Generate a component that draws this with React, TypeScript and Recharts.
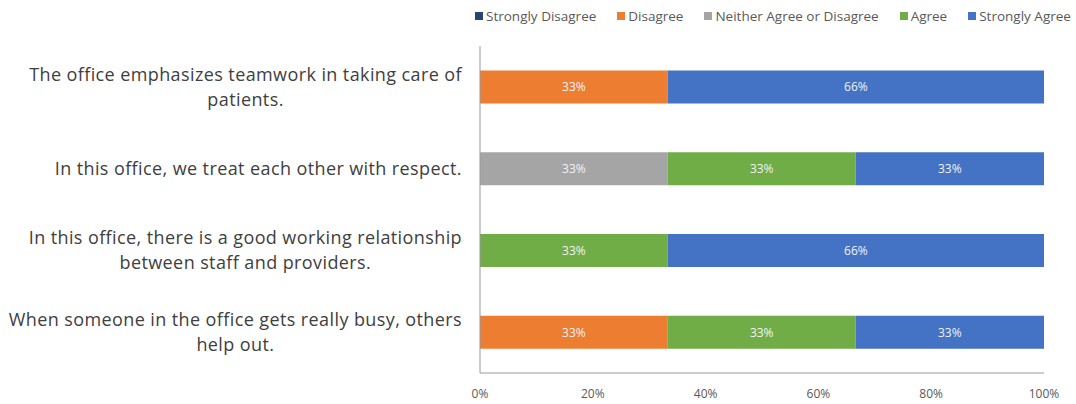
import { BarChart, Bar, XAxis, YAxis, LabelList } from 'recharts'

const categories = [
  'The office emphasizes teamwork in taking care of\npatients.',
  'In this office, we treat each other with respect.',
  'In this office, there is a good working relationship\nbetween staff and providers.',
  'When someone in the office gets really busy, others\nhelp out.',
]
const stronglyDisagree = [0, 0, 0, 0]
const disagree = [33.3, 0, 0, 33.3]
const neither = [0, 33.3, 0, 0]
const agree = [0, 33.3, 33.3, 33.3]
const stronglyAgree = [66.7, 33.4, 66.7, 33.4]
const xTicks = [0, 20, 40, 60, 80, 100]

const series = [
  { key: 'sd', name: 'Strongly Disagree', color: '#264478', values: stronglyDisagree },
  { key: 'd', name: 'Disagree', color: '#ED7D31', values: disagree },
  { key: 'n', name: 'Neither Agree or Disagree', color: '#A5A5A5', values: neither },
  { key: 'a', name: 'Agree', color: '#70AD47', values: agree },
  { key: 'sa', name: 'Strongly Agree', color: '#4472C4', values: stronglyAgree },
]

const data = categories.map((name, i) => {
  const row: Record<string, string | number> = { name }
  series.forEach(s => { row[s.key] = s.values[i] })
  return row
})

const FONT = '"Open Sans", Lato, sans-serif'
const LABEL_SIZE = 18
const LABEL_SPACING = 0.4

let ctx: CanvasRenderingContext2D | null = null
function measure(text: string) {
  if (!ctx) ctx = document.createElement('canvas').getContext('2d')
  if (!ctx) return text.length * 8
  ctx.font = `${LABEL_SIZE}px "Open Sans"`
  return ctx.measureText(text).width + text.length * LABEL_SPACING
}

// multi-line category label, each line centred on the widest one, block right-aligned
function CategoryTick(props: any) {
  const { x, y, payload } = props
  const lines: string[] = String(payload.value).split('\n')
  const maxW = Math.max(...lines.map(measure))
  const right = x - 10
  const cx = right - maxW / 2
  const lh = 25
  const top = y - ((lines.length - 1) * lh) / 2
  return (
    <text
      x={cx} y={top} textAnchor="middle" fill="#404040"
      fontSize={LABEL_SIZE} fontFamily={FONT} letterSpacing={LABEL_SPACING}
    >
      {lines.map((l, i) => (
        <tspan key={i} x={cx} y={top + i * lh} dy="0.35em">{l}</tspan>
      ))}
    </text>
  )
}

function LegendBox() {
  return (
    <div
      style={{
        position: 'absolute', left: 475, top: 7, display: 'flex', gap: 21,
        fontFamily: FONT, fontSize: 13.5, color: '#595959', whiteSpace: 'nowrap',
      }}
    >
      {series.map(s => (
        <div key={s.key} style={{ display: 'flex', alignItems: 'center', gap: 3 }}>
          <span style={{ width: 8, height: 8, background: s.color, display: 'inline-block' }} />
          <span>{s.name}</span>
        </div>
      ))}
    </div>
  )
}

const pct = (v: any) => (Number(v) > 0 ? `${Math.floor(Number(v))}%` : '')

export default function App() {
  return (
    <div style={{ position: 'absolute', left: 0, top: 0, width: 1076, height: 404, background: '#fff' }}>
      <BarChart
        width={1076}
        height={404}
        data={data}
        layout="vertical"
        barCategoryGap="30%"
        margin={{ top: 46, right: 32, left: 0, bottom: 0 }}
      >
        <XAxis
          type="number"
          domain={[0, 100]}
          ticks={xTicks}
          tickFormatter={v => `${v}%`}
          tick={{ fontSize: 12, fill: '#595959', fontFamily: FONT }}
          tickLine={false}
          tickMargin={10}
          axisLine={{ stroke: '#9a9a9a' }}
          height={31}
          interval={0}
        />
        <YAxis
          type="category"
          dataKey="name"
          width={480}
          tick={<CategoryTick />}
          tickLine={false}
          axisLine={{ stroke: '#9a9a9a' }}
          interval={0}
        />
        {series.map(s => (
          <Bar key={s.key} dataKey={s.key} name={s.name} stackId="a" fill={s.color} isAnimationActive={false}>
            <LabelList dataKey={s.key} position="center" formatter={pct} fill="#f2f2f2" fontSize={12} fontFamily={FONT} />
          </Bar>
        ))}
      </BarChart>
      <LegendBox />
    </div>
  )
}
